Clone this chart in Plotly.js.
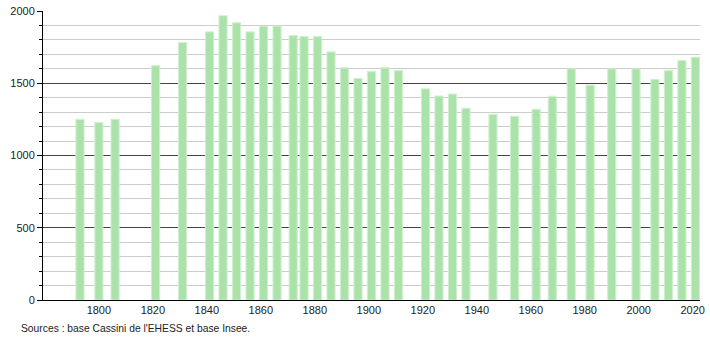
<!DOCTYPE html>
<html>
<head>
<meta charset="utf-8">
<script src="https://cdn.plot.ly/plotly-3.0.1.min.js"></script>
<style>
html,body{margin:0;padding:0;background:#fff;}
#chart{width:710px;height:340px;}
</style>
</head>
<body>
<div id="chart"></div>
<script>
const years = [1793,1800,1806,1821,1831,1841,1846,1851,1856,1861,1866,1872,1876,1881,1886,1891,1896,1901,1906,1911,1921,1926,1931,1936,1946,1954,1962,1968,1975,1982,1990,1999,2006,2011,2016,2021];
const population = [1250,1228,1250,1621,1781,1855,1967,1918,1855,1894,1896,1830,1823,1823,1717,1607,1533,1581,1607,1588,1461,1411,1425,1326,1285,1271,1319,1409,1600,1487,1600,1600,1526,1588,1657,1680];
const xTickVals = [1800,1820,1840,1860,1880,1900,1920,1940,1960,1980,2000,2020];
const yTickVals = [0,500,1000,1500,2000];
const sourceText = "Sources : base Cassini de l'EHESS et base Insee.";

const trace = {
  type: 'bar',
  x: years,
  y: population,
  width: 3,
  marker: {color: 'rgb(170,226,170)', line: {color: 'rgba(205,240,205,0.9)', width: 1.2}},
  hoverinfo: 'x+y'
};

const layout = {
  width: 710, height: 340,
  margin: {l: 43, r: 10, t: 11, b: 40},
  paper_bgcolor: '#fff', plot_bgcolor: '#fff',
  font: {family: 'Liberation Sans, Arial, sans-serif', size: 11, color: '#222'},
  showlegend: false,
  bargap: 0,
  xaxis: {
    range: [1779.3, 2022.7],
    tickvals: xTickVals,
    ticktext: xTickVals.map(String),
    showgrid: false, zeroline: false,
    showline: true, linecolor: '#000', linewidth: 1,
    ticks: '', tickfont: {size: 11, color: '#222'}
  },
  yaxis: {
    range: [0, 2000],
    tickvals: yTickVals,
    ticktext: yTickVals.map(String),
    showgrid: true, gridcolor: '#444', gridwidth: 1,
    zeroline: false,
    showline: true, linecolor: '#000', linewidth: 1,
    ticks: 'outside', ticklen: 5, tickcolor: '#000',
    tickfont: {size: 11, color: '#222'},
    minor: {dtick: 100, showgrid: true, gridcolor: '#cccccc', gridwidth: 1, ticks: 'outside', ticklen: 3, tickcolor: '#000'}
  },
  annotations: [{
    text: sourceText, xref: 'paper', yref: 'paper', x: -0.036, y: -0.072,
    xanchor: 'left', yanchor: 'top', showarrow: false,
    font: {size: 10.3, color: '#222'}
  }]
};

Plotly.newPlot('chart', [trace], layout, {displayModeBar: false, staticPlot: true});
</script>
</body>
</html>
